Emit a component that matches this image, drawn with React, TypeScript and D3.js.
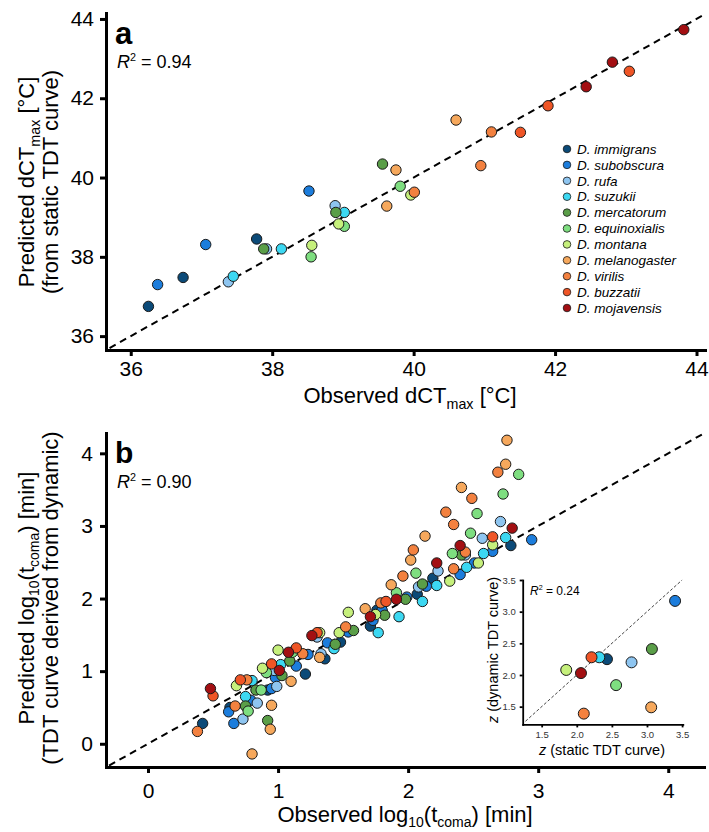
import { useEffect, useRef } from "react";
import * as d3 from "d3";

const FONT = "'Liberation Sans', Arial, Helvetica, sans-serif";

const species = [
  "D. immigrans",
  "D. subobscura",
  "D. rufa",
  "D. suzukii",
  "D. mercatorum",
  "D. equinoxialis",
  "D. montana",
  "D. melanogaster",
  "D. virilis",
  "D. buzzatii",
  "D. mojavensis",
];
const colors = [
  "#0b4a78",
  "#1c7ddc",
  "#8ec5f0",
  "#3cd8f2",
  "#5a9e48",
  "#7ede80",
  "#c6f07c",
  "#f6a85c",
  "#f3813f",
  "#ef5526",
  "#a30f12",
];

// panel a: observed vs predicted dCTmax (one list per species)
const aObs = [
  [36.25, 36.74, 37.78],
  [36.38, 37.06, 38.52],
  [37.38, 37.92, 38.89],
  [37.45, 38.13, 39.02],
  [37.88, 38.9, 39.56],
  [38.55, 39.02, 39.81],
  [38.56, 38.94, 39.96],
  [39.62, 39.75, 40.6],
  [40.01, 40.95, 41.1],
  [41.51, 41.9, 43.05],
  [42.44, 42.81, 43.82],
];
const aPred = [
  [36.75, 37.48, 38.45],
  [37.3, 38.31, 39.66],
  [37.37, 38.2, 39.29],
  [37.51, 38.2, 39.12],
  [38.2, 39.12, 40.34],
  [38.0, 38.77, 39.78],
  [38.29, 38.83, 39.56],
  [39.28, 40.19, 41.45],
  [39.63, 40.3, 41.15],
  [41.14, 41.81, 42.68],
  [42.29, 42.91, 43.73],
];

// panel b: observed vs predicted log10(t_coma)
const bObs = [
  [0.42, 0.63, 0.92, 1.21, 1.36, 1.48, 1.71, 1.76, 2.07, 2.19, 2.79],
  [0.66, 0.62, 0.79, 0.95, 0.98, 1.14, 1.23, 1.38, 1.54, 1.73, 1.8, 1.99, 2.14, 2.4, 2.51, 2.65, 2.95],
  [0.73, 0.84, 0.99, 0.97, 1.3, 1.33, 2.08, 2.23, 2.44, 2.57, 2.71],
  [0.75, 0.8, 1.02, 1.43, 1.77, 1.93, 2.11, 2.22, 2.45, 2.58, 2.75],
  [0.75, 0.92, 0.83, 1.03, 1.09, 1.44, 1.58, 1.82, 1.98, 2.11, 2.41],
  [0.77, 0.87, 0.91, 1.11, 1.91, 2.06, 2.34, 2.48, 2.53, 2.73, 2.85],
  [0.68, 0.88, 1.0, 1.32, 1.47, 1.54, 1.75, 2.32, 2.54, 2.65],
  [0.8, 0.94, 0.95, 1.1, 1.32, 1.67, 1.87, 2.02, 2.13, 2.41, 2.75, 2.76],
  [0.38, 0.67, 0.76, 1.19, 1.52, 1.79, 1.96, 2.04, 2.29, 2.35, 2.35, 2.44, 2.49, 2.69],
  [0.5, 0.71, 0.95, 1.14, 1.3, 1.83, 2.65],
  [0.48, 1.01, 1.08, 1.26, 1.71, 1.91, 2.22, 2.4, 2.8],
];
const bPred = [
  [0.28, 0.5, 0.74, 0.96, 1.17, 1.4, 1.62, 1.84, 2.06, 2.28, 2.73],
  [0.28, 0.44, 0.6, 0.76, 0.91, 1.07, 1.23, 1.39, 1.54, 1.7, 1.84, 2.02, 2.17, 2.33, 2.49, 2.65, 2.81],
  [0.34, 0.56, 0.79, 1.01, 1.47, 1.24, 2.16, 2.38, 2.6, 2.83, 3.06],
  [0.65, 0.87, 1.09, 1.31, 1.53, 1.75, 1.96, 2.18, 2.43, 2.62, 2.84],
  [0.52, 0.32, 0.74, 0.94, 1.14, 1.37, 1.56, 1.77, 1.99, 2.2, 2.6],
  [0.45, 0.74, 0.98, 1.26, 2.08, 2.35, 2.62, 2.9, 3.17, 3.44, 3.71],
  [0.8, 1.04, 1.29, 1.53, 1.53, 1.81, 1.78, 2.24, 2.49, 2.74],
  [-0.14, 0.2, 0.53, 0.86, 1.19, 1.86, 2.19, 2.53, 2.86, 3.53, 3.85, 4.18],
  [0.17, 0.52, 0.88, 1.24, 1.61, 1.94, 2.31, 2.67, 3.19, 3.02, 2.41, 2.64, 3.38, 3.74],
  [0.66, 0.88, 1.1, 1.32, 1.53, 1.96, 2.85],
  [0.76, 1.01, 1.26, 1.49, 1.75, 1.99, 2.49, 2.73, 2.97],
];

// inset: z from static vs dynamic TDT curve
const zStatic = [2.43, 3.4, 2.78, 2.32, 3.07, 2.56, 1.85, 3.06, 2.1, 2.21, 2.06];
const zDynamic = [2.25, 3.17, 2.2, 2.28, 2.41, 1.84, 2.08, 1.49, 1.39, 2.28, 2.03];

const aTicks = [36, 38, 40, 42, 44];
const bTicks = [0, 1, 2, 3, 4];
const zTicks = [1.5, 2.0, 2.5, 3.0, 3.5];

const App = () => {
  const ref = useRef<SVGSVGElement>(null);

  useEffect(() => {
    const svg = d3.select(ref.current);
    svg.selectAll("*").remove();

    const styleAxis = (g: any, w: number, fs: number, col = "#000") => {
      g.attr("font-family", FONT);
      g.select(".domain").attr("stroke", "#000").attr("stroke-width", w).attr("stroke-linecap", "square");
      g.selectAll(".tick line").attr("stroke", "#000").attr("stroke-width", w);
      g.selectAll(".tick text").attr("font-size", fs).attr("fill", col);
    };

    const drawPoints = (g: any, obs: number[][], pred: number[][], x: any, y: any, r: number) => {
      const pts = obs.flatMap((row, i) => row.map((o, j) => ({ s: i, x: o, y: pred[i][j] })));
      g.selectAll("circle")
        .data(pts)
        .join("circle")
        .attr("cx", (d: any) => x(d.x))
        .attr("cy", (d: any) => y(d.y))
        .attr("r", r)
        .attr("fill", (d: any) => colors[d.s])
        .attr("stroke", "#1a1a1a")
        .attr("stroke-width", 1);
    };

    const r2 = (x: number, y: number, val: string, fs: number) => {
      const t = svg.append("text").attr("x", x).attr("y", y).attr("font-family", FONT).attr("font-size", fs);
      t.append("tspan").attr("font-style", "italic").text("R");
      t.append("tspan").attr("dy", -fs * 0.38).attr("font-size", fs * 0.6).text("2");
      t.append("tspan").attr("dy", fs * 0.38).text(" = " + val);
    };

    const subText = (t: any, pre: string, sub: string, post: string, fs: number) => {
      t.append("tspan").text(pre);
      t.append("tspan").attr("dy", fs * 0.25).attr("font-size", fs * 0.65).text(sub);
      t.append("tspan").attr("dy", -fs * 0.25).text(post);
    };

    // ---------- panel a ----------
    const xA = d3.scaleLinear().domain([35.65, 44.12]).range([106, 705]);
    const yA = d3.scaleLinear().domain([35.65, 44.15]).range([350, 13]);

    svg.append("line")
      .attr("x1", xA(35.7)).attr("y1", yA(35.7))
      .attr("x2", xA(44.12)).attr("y2", yA(44.12))
      .attr("stroke", "#000").attr("stroke-width", 2).attr("stroke-dasharray", "7,5");

    const gxA = svg.append("g").attr("transform", "translate(0,350)")
      .call(d3.axisBottom(xA).tickValues(aTicks).tickSize(6).tickSizeOuter(0).tickPadding(5).tickFormat(d3.format("d")));
    styleAxis(gxA, 3, 21);
    const gyA = svg.append("g").attr("transform", "translate(106,0)")
      .call(d3.axisLeft(yA).tickValues(aTicks).tickSize(6).tickSizeOuter(0).tickPadding(6).tickFormat(d3.format("d")));
    styleAxis(gyA, 3, 21);

    drawPoints(svg.append("g"), aObs, aPred, xA, yA, 5.2);

    svg.append("text").attr("x", 115).attr("y", 44).attr("font-family", FONT)
      .attr("font-size", 31).attr("font-weight", "bold").text("a");
    r2(117, 68, "0.94", 18);

    const xtA = svg.append("text").attr("x", 410).attr("y", 403).attr("text-anchor", "middle")
      .attr("font-family", FONT).attr("font-size", 22);
    subText(xtA, "Observed dCT", "max", " [°C]", 22);

    const ytA1 = svg.append("text").attr("transform", "translate(34,182) rotate(-90)")
      .attr("text-anchor", "middle").attr("font-family", FONT).attr("font-size", 22);
    subText(ytA1, "Predicted dCT", "max", " [°C]", 22);
    svg.append("text").attr("transform", "translate(58,182) rotate(-90)")
      .attr("text-anchor", "middle").attr("font-family", FONT).attr("font-size", 22)
      .text("(from static TDT curve)");

    // legend
    const leg = svg.append("g").selectAll("g").data(species).join("g")
      .attr("transform", (_d, i) => `translate(567,${149 + i * 15.9})`);
    leg.append("circle").attr("r", 3.8).attr("fill", (_d, i) => colors[i])
      .attr("stroke", "#1a1a1a").attr("stroke-width", 0.8);
    leg.append("text").attr("x", 10).attr("dy", "0.35em").attr("font-family", FONT)
      .attr("font-size", 13.5).attr("font-style", "italic").text((d) => d);

    // ---------- panel b ----------
    const xB = d3.scaleLinear().domain([-0.323, 4.275]).range([106, 704]);
    const yB = d3.scaleLinear().domain([-0.32, 4.28]).range([767, 433]);

    svg.append("line")
      .attr("x1", xB(-0.3)).attr("y1", yB(-0.3))
      .attr("x2", xB(4.27)).attr("y2", yB(4.27))
      .attr("stroke", "#000").attr("stroke-width", 2).attr("stroke-dasharray", "7,5");

    const gxB = svg.append("g").attr("transform", "translate(0,767)")
      .call(d3.axisBottom(xB).tickValues(bTicks).tickSize(6).tickSizeOuter(0).tickPadding(10).tickFormat(d3.format("d")));
    styleAxis(gxB, 3, 21);
    const gyB = svg.append("g").attr("transform", "translate(106,0)")
      .call(d3.axisLeft(yB).tickValues(bTicks).tickSize(6).tickSizeOuter(0).tickPadding(7).tickFormat(d3.format("d")));
    styleAxis(gyB, 3, 21);

    drawPoints(svg.append("g"), bObs, bPred, xB, yB, 5.2);

    svg.append("text").attr("x", 115).attr("y", 463).attr("font-family", FONT)
      .attr("font-size", 30).attr("font-weight", "bold").text("b");
    r2(117, 488, "0.90", 18);

    const xtB = svg.append("text").attr("x", 405).attr("y", 822).attr("text-anchor", "middle")
      .attr("font-family", FONT).attr("font-size", 22);
    xtB.append("tspan").text("Observed log");
    xtB.append("tspan").attr("dy", 5).attr("font-size", 14).text("10");
    xtB.append("tspan").attr("dy", -5).text("(t");
    xtB.append("tspan").attr("dy", 5).attr("font-size", 14).text("coma");
    xtB.append("tspan").attr("dy", -5).text(") [min]");

    const ytB1 = svg.append("text").attr("transform", "translate(34,598) rotate(-90)")
      .attr("text-anchor", "middle").attr("font-family", FONT).attr("font-size", 22);
    ytB1.append("tspan").text("Predicted log");
    ytB1.append("tspan").attr("dy", 5).attr("font-size", 14).text("10");
    ytB1.append("tspan").attr("dy", -5).text("(t");
    ytB1.append("tspan").attr("dy", 5).attr("font-size", 14).text("coma");
    ytB1.append("tspan").attr("dy", -5).text(") [min]");
    svg.append("text").attr("transform", "translate(58,598) rotate(-90)")
      .attr("text-anchor", "middle").attr("font-family", FONT).attr("font-size", 22)
      .text("(TDT curve derived from dynamic)");

    // ---------- inset ----------
    const xZ = d3.scaleLinear().domain([1.23, 3.51]).range([522.7, 682.8]);
    const yZ = d3.scaleLinear().domain([1.22, 3.5]).range([724.4, 580]);

    svg.append("line")
      .attr("x1", xZ(1.27)).attr("y1", yZ(1.27))
      .attr("x2", xZ(3.5)).attr("y2", yZ(3.5))
      .attr("stroke", "#444").attr("stroke-width", 1).attr("stroke-dasharray", "3,2");

    const gxZ = svg.append("g").attr("transform", "translate(0,724.4)")
      .call(d3.axisBottom(xZ).tickValues(zTicks).tickSize(3).tickSizeOuter(0).tickPadding(4).tickFormat(d3.format(".1f")));
    styleAxis(gxZ, 1.8, 9.5, "#333");
    const gyZ = svg.append("g").attr("transform", "translate(522.7,0)")
      .call(d3.axisLeft(yZ).tickValues(zTicks).tickSize(3).tickSizeOuter(0).tickPadding(4).tickFormat(d3.format(".1f")));
    styleAxis(gyZ, 1.8, 9.5, "#333");

    const inset = svg.append("g");
    inset.selectAll("circle")
      .data(zStatic.map((z, i) => ({ s: i, x: z, y: zDynamic[i] })))
      .join("circle")
      .attr("cx", (d) => xZ(d.x))
      .attr("cy", (d) => yZ(d.y))
      .attr("r", 5.5)
      .attr("fill", (d) => colors[d.s])
      .attr("stroke", "#1a1a1a")
      .attr("stroke-width", 1);

    r2(530, 595, "0.24", 12);

    const xtZ = svg.append("text").attr("x", 602).attr("y", 755).attr("text-anchor", "middle")
      .attr("font-family", FONT).attr("font-size", 14.5);
    xtZ.append("tspan").attr("font-style", "italic").text("z");
    xtZ.append("tspan").text(" (static TDT curve)");
    const ytZ = svg.append("text").attr("transform", "translate(498,650) rotate(-90)")
      .attr("text-anchor", "middle").attr("font-family", FONT).attr("font-size", 14.5);
    ytZ.append("tspan").attr("font-style", "italic").text("z");
    ytZ.append("tspan").text(" (dynamic TDT curve)");
  }, []);

  return (
    <svg
      ref={ref}
      width={709}
      height={832}
      style={{ position: "absolute", left: 0, top: 0, background: "#fff" }}
    ></svg>
  );
};

export default App;
